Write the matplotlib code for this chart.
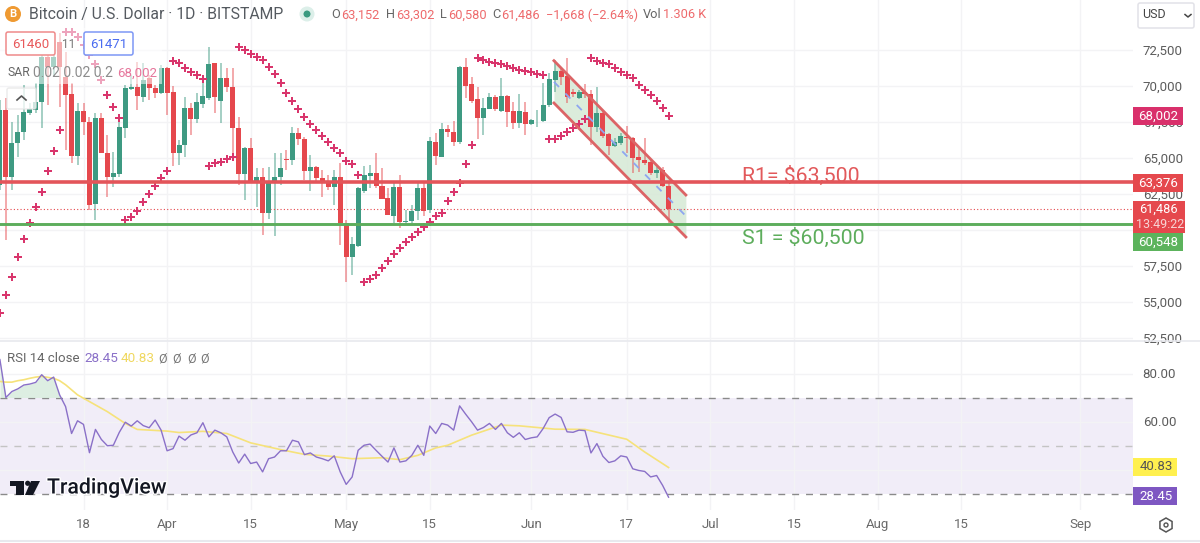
import matplotlib
matplotlib.use("Agg")
import matplotlib.pyplot as plt
import matplotlib.patheffects as pe
from matplotlib.patches import Rectangle, Circle, FancyBboxPatch, RegularPolygon, Polygon
import numpy as np

plt.rcParams["font.family"] = ["Roboto", "DejaVu Sans"]

# days counted from 18 Mar
first_day = -14
opens = [63120, 68330, 63700, 66020, 66830, 68150, 68330, 68910, 72040, 71340, 73080, 70650, 69420, 65140,
         68290, 67520, 61800, 67800, 65370, 63700, 63890, 67060, 69790, 69910, 69260, 70530, 69880, 69490,
         71270, 69610, 65320, 65900, 68450, 67710, 68750, 69140, 71570, 68980, 70530, 69950, 67060, 63890,
         65690, 63290, 63700, 61160, 63360, 63700, 64910, 64860, 66760, 66300, 64120, 64400, 63630, 63290,
         62960, 63700, 60510, 58100, 58890, 62730, 63750, 63930, 63060, 62200, 60990, 63010, 60580, 60630,
         61340, 62890, 61390, 66130, 65090, 66990, 66830, 66130, 71340, 70120, 69080, 67800, 68400, 69210,
         68290, 69300, 68290, 67410, 68220, 67360, 67620, 67590, 68680, 70420, 71070, 70690, 69610, 69190,
         69610, 69450, 67130, 68150, 66670, 65830, 66060, 66480, 66410, 65050, 64860, 64740, 63930, 64170,
         63060]
highs = [69030, 69140, 67520, 67990, 70070, 68800, 70190, 72730, 72960, 73190, 73660, 72380, 70190, 68800,
         68800, 67870, 68100, 68100, 66600, 65440, 67990, 70070, 70760, 71690, 71570, 70760, 70070, 71460,
         71340, 70000, 66250, 69210, 68800, 69490, 70420, 72730, 71620, 71570, 71230, 71230, 67870, 65790,
         66360, 64280, 64280, 64400, 65370, 65370, 65550, 67130, 67110, 66480, 65210, 64440, 64170, 63820,
         64170, 64630, 60690, 59540, 63010, 64440, 64510, 65370, 64280, 62890, 63240, 63820, 61390, 61740,
         63360, 63240, 66440, 66710, 67410, 67290, 67570, 71390, 71920, 70600, 69950, 69140, 69540, 69380,
         70530, 69380, 68910, 69450, 68910, 67690, 68330, 70190, 70930, 71800, 71230, 71920, 69770, 69720,
         70140, 69720, 69950, 68290, 66710, 66360, 66710, 67220, 66480, 65790, 66410, 64860, 64400, 64400,
         63360]
lows = [62780, 59300, 62780, 65090, 66250, 67990, 68100, 67060, 68680, 70650, 68570, 65550, 64680, 64510,
        66600, 61390, 60690, 65320, 62270, 63010, 63700, 66360, 69720, 68330, 68910, 69030, 69140, 69450,
        67990, 64470, 64510, 65090, 66600, 67410, 68450, 69030, 68150, 67410, 69610, 65090, 63130, 62080,
        63240, 61620, 59650, 60740, 59580, 63130, 64170, 64510, 65900, 63470, 62730, 63240, 62310, 62780,
        61740, 58960, 56410, 56870, 58800, 62590, 62890, 62890, 62130, 61040, 60510, 60120, 60420, 60460,
        60690, 60970, 61200, 64510, 65050, 66480, 65830, 65970, 69140, 68840, 66300, 66600, 68380, 68290,
        68220, 67130, 66990, 67060, 66600, 67290, 67180, 67520, 68570, 69610, 70070, 68800, 69210, 69080,
        69140, 65900, 66830, 66360, 65210, 65790, 65900, 65320, 63980, 64050, 64510, 63820, 63590, 63010,
        60460]
closes = [68330, 63700, 66020, 66830, 68220, 68380, 68910, 72040, 71340, 72040, 71340, 69380, 65140, 68290,
          67520, 61740, 67800, 65370, 63700, 63930, 67130, 69840, 69950, 69300, 70420, 69840, 69490, 71230,
          69490, 65320, 65900, 68450, 67710, 68870, 69300, 71530, 69210, 70530, 69910, 67060, 63890, 65690,
          63290, 63700, 61160, 63360, 63700, 64280, 64860, 66760, 66300, 64120, 64400, 63590, 63290, 63010,
          63700, 60460, 58100, 59030, 62890, 63820, 63930, 63060, 62150, 61040, 63010, 60580, 60630, 61340,
          62890, 61340, 66200, 65140, 66990, 66830, 66130, 71340, 70000, 68980, 67800, 68450, 69210, 68400,
          69300, 68220, 67450, 68290, 67360, 67640, 67640, 68680, 70460, 71070, 70650, 69210, 69450, 69580,
          69450, 67130, 68150, 66550, 65830, 66130, 66530, 66360, 65020, 64860, 64680, 63930, 64170, 63060,
          61486]

# parabolic SAR, one list per run of dots: first day, then the values
sar_runs = [
    (-14, [54240, 55490, 56740, 58130, 59380, 60490, 61600, 62640, 64100, 65490, 66940]),
    (-3, [73730, 73730, 73380, 72850, 72150, 71505, 70417, 69398, 68542, 67755]),
    (7, [60690, 60925, 61295, 61920, 62500, 63080, 63590, 64100]),
    (15, [71760, 71575, 71230, 70990, 70760, 70490]),
    (21, [64470, 64630, 64745, 64910, 65045]),
    (26, [72730, 72500, 72200, 71990, 71800, 71340, 70830, 70190, 69540, 68960, 68380, 67870, 67360, 66940,
          66550, 66130, 65720, 65320, 64810, 64580, 63820]),
    (47, [56410, 56570, 56870, 57360, 57870, 58310, 58730, 59170, 59540, 59880, 60210, 60550, 60990, 61200,
          61990, 62640, 63290, 64610, 65900]),
    (66, [71970, 71800, 71670, 71575, 71505, 71390, 71270, 71110, 71065, 70990, 70830, 70790]),
    (78, [66300, 66300, 66530, 66780, 67060, 67360, 67685]),
    (85, [71920, 71760, 71620, 71530, 71270, 70950, 70760, 70560, 70100, 69720, 69380, 68960, 68450, 67920]),
]

rsi = [85.8, 70, 72.5, 73.6, 75.2, 75.6, 76.3, 79.5, 77, 78.5, 71.1, 66.2, 55, 60.3, 58.8, 47, 56.7, 52.5,
       49.9, 50.1, 55.5, 59.7, 58.1, 60.3, 58.3, 57.4, 60.6, 56.4, 47.8, 48.7, 53.9, 52.2, 54.4, 55.3, 59.5,
       53.6, 56.4, 55.3, 53.6, 47.3, 42.7, 46.4, 42.5, 43.1, 39, 44.5, 45.2, 47.8, 47.8, 52.2, 51.5, 46.2,
       46.9, 45.2, 44.5, 43.6, 45.7, 39, 33.8, 36.9, 48, 50.1, 50.6, 48, 45.5, 43.1, 49, 43.1, 43.6, 45.9,
       50.1, 45.9, 58.1, 55, 59.2, 58.5, 56.4, 66.5, 63.1, 59.9, 56.4, 57.5, 59.2, 56.7, 59.2, 55.3, 53.4,
       55.3, 52.5, 53.2, 53.6, 57.1, 61.6, 63.1, 61.7, 55.7, 55.5, 56.4, 56.2, 46.9, 50.8, 45.5, 42.9, 43.6,
       45.7, 45.2, 40.3, 39.6, 39.2, 36.9, 37.5, 33.4, 28.45]
rsi_ma_days = [-14, -13, -12, -11, -10, -9, -8, -7, -6, -5, -4, -3, -2, -1, 0, 4, 7, 9, 14, 16, 20, 24, 28, 33,
               37, 41, 45, 50, 53, 56, 59, 61, 65, 70, 73, 79, 84, 91, 94, 98]
rsi_ma = [76.7, 76.4, 76.4, 77, 77.4, 78, 78.5, 78.8, 78.4, 78, 77, 75.3, 73.2, 71.1, 69.7, 64.1, 59.2, 56.7,
          56, 55.4, 55.9, 55, 51.1, 48.3, 46.3, 45.6, 44.5, 44.9, 44.1, 45.9, 49, 50.1, 54.3, 58.5, 58.2,
          56.8, 56.7, 52.6, 47.3, 40.83]

price_ticks = [52500, 55000, 57500, 60000, 62500, 65000, 67500, 70000, 72500]
rsi_ticks = [40, 60, 80]
rsi_tick_labels = ["", "60.00", "80.00"]
time_days = [0, 14, 28, 44, 58, 75, 91, 105, 119, 133, 147, 167]
time_labels = ["18", "Apr", "15", "May", "15", "Jun", "17", "Jul", "15", "Aug", "15", "Sep"]

resistance = 63300
support = 60450
last_price = 61486
channel_days = [78.8, 100.9]
channel_top = [71757, 62430]
channel_mid = [70290, 60970]
channel_bottom = [68820, 59514]

RED = "#e5484d"
GREEN = "#3e9a82"
WIDTH, HEIGHT = 1200, 543
PANE_RIGHT = 1133


def pane(top, bottom):
    a = fig.add_axes([0, 1 - bottom / HEIGHT, PANE_RIGHT / WIDTH, (bottom - top) / HEIGHT])
    a.set_xlim((0 - 83.5) / 5.97, (PANE_RIGHT - 83.5) / 5.97)
    for s in a.spines.values():
        s.set_visible(False)
    a.yaxis.tick_right()
    a.grid(True, color="#f3f3f5", lw=1)
    a.set_axisbelow(True)
    a.tick_params(length=0, labelsize=9.5, labelcolor="#5c5c5c")
    a.set_xticks(time_days)
    return a


fig = plt.figure(figsize=(WIDTH / 100, HEIGHT / 100), dpi=100)

# price pane
ax = pane(0, 341)
ax.set_ylim(72500 - 291 / 0.0144, 72500 + 50 / 0.0144)
ax.set_yticks(price_ticks, [f"{p:,}" for p in price_ticks])
ax.tick_params(axis="y", pad=7)
ax.tick_params(axis="x", labelbottom=False)

ax.fill_between(channel_days, channel_bottom, channel_top, color="#d8ead8", alpha=0.9, lw=0, zorder=1)

days = np.arange(first_day, first_day + len(opens))
o, h, l, c = np.array(opens), np.array(highs), np.array(lows), np.array(closes)
colors = np.where(c >= o, GREEN, RED)
ax.vlines(days, l, h, colors=colors, lw=1.2, alpha=0.55, zorder=2)
ax.bar(days, np.maximum(np.abs(c - o), 30), bottom=np.minimum(o, c), width=0.84, color=colors, zorder=3)

for start, vals in sar_runs:
    ax.scatter(np.arange(start, start + len(vals)), vals, marker="P", s=32, color="#d9356c", lw=0, zorder=4)

ax.plot(channel_days, channel_top, color="#dc6466", lw=2, zorder=5)
ax.plot(channel_days, channel_bottom, color="#dc6466", lw=2, zorder=5)
ax.plot(channel_days, channel_mid, color="#8ea6f0", lw=1.3, ls=(0, (4, 5)), zorder=5)

ax.axhline(resistance, color="#e3555a", lw=2.6, zorder=6)
ax.axhline(support, color="#5dad5c", lw=2.1, zorder=6)
ax.axhline(last_price, color=RED, lw=0.8, ls=(0, (1, 2)), zorder=2)

# rsi pane
ax2 = pane(342, 510)
ax2.set_ylim(70 - (510 - 397.5) / 2.4, 70 + (397.5 - 342) / 2.4)
ax2.set_yticks(rsi_ticks, rsi_tick_labels)
ax2.set_xticklabels(time_labels)
ax2.tick_params(axis="y", pad=7)
ax2.tick_params(axis="x", pad=5.5, labelsize=9.5, labelcolor="#6a6a6a")
ax2.axhspan(30, 70, color="#f1edf8", lw=0, zorder=0.5)
for lev, col in zip([70, 50, 30], ["#8a8a8a", "#c4c4c4", "#8a8a8a"]):
    ax2.axhline(lev, color=col, lw=1, ls=(0, (5, 5)), zorder=1)
rsi_arr = np.array(rsi)
ax2.fill_between(days[:12], rsi_arr[:12], 70, where=rsi_arr[:12] >= 70, color="#cfe8d6", alpha=0.7, lw=0, zorder=1)
ax2.plot(rsi_ma_days, rsi_ma, color="#f6e27a", lw=1.2, zorder=3)
ax2.plot(days, rsi, color="#8a70c8", lw=1.0, zorder=4)

# everything that is tradingview furniture goes on a pixel overlay
top = fig.add_axes([0, 0, 1, 1], zorder=10)
top.set_xlim(0, WIDTH)
top.set_ylim(HEIGHT, 0)
top.axis("off")
top.patch.set_alpha(0)


def label(x, y, s, color="#555555", size=9.5, ha="left", **kw):
    return top.text(x, y, s, color=color, fontsize=size, ha=ha, va="center", **kw)


def price_box(x0, x1, y0, y1, color):
    top.add_patch(Rectangle((x0, y0), x1 - x0, y1 - y0, color=color, lw=0))


def round_box(x0, x1, y0, y1, edge, face="white", alpha=1.0):
    top.add_patch(FancyBboxPatch((x0 + 2, y0 + 2), x1 - x0 - 4, y1 - y0 - 4, boxstyle="round,pad=2",
                                 ec=edge, fc=face, lw=1.1, alpha=alpha))


top.add_patch(Rectangle((0, 28), 162, 56, color="white", alpha=0.55, lw=0))

# header
top.add_patch(Circle((13, 14), 8, color="#ef9a32", lw=0))
label(13, 14, "B", color="white", size=8, ha="center", fontweight="bold")
label(29, 15, "Bitcoin / U.S. Dollar · 1D · BITSTAMP", size=11.3, color="#555a60")
top.add_patch(Circle((307, 14), 7.5, color="#dcefe9", lw=0))
top.add_patch(Circle((307, 14), 3.5, color="#3a9a80", lw=0))
HEAD_RED = "#ee6a6c"
for x, s, col in [(331, "O", "#666666"), (341, "63,152", HEAD_RED), (386, "H", "#666666"), (396, "63,302", HEAD_RED),
                  (440, "L", "#666666"), (448, "60,580", HEAD_RED), (492, "C", "#666666"), (501, "61,486", HEAD_RED),
                  (546, "−1,668 (−2.64%)", HEAD_RED), (643, "Vol", "#666666"), (663, "1.306 K", HEAD_RED)]:
    label(x, 15, s, color=col, size=9.2)

# buy / sell boxes and sar legend
round_box(6, 55, 32, 55, "#ef8a8a")
label(30.5, 44, "61460", color="#e8595b", ha="center", size=9.5)
label(69, 44, "11", color="#777777", ha="center", size=8.5)
round_box(84, 133, 32, 55, "#7d97f5")
label(108.5, 44, "61471", color="#4a6cf0", ha="center", size=9.5)
label(7, 73, "SAR", color="#666666", size=8.8)
label(33, 73, "0.02 0.02 0.2", color="#8c8c8c", size=10)
label(117, 73, "68,002", color="#e6769c", size=9.5)
round_box(7, 36, 88, 109, "#e6e6e6", alpha=0.75)
top.plot([17, 21.5, 26], [100, 96, 100], color="#555555", lw=1.2)

# annotations
label(742, 176, "R1= $63,500", color="#e2595b", size=15.3)
label(742, 238, "S1 = $60,500", color="#5dad5c", size=15.3)

# price scale labels
price_box(PANE_RIGHT, 1183, 107, 125, "#d9306b")
label(1158, 116, "68,002", color="white", ha="center")
price_box(PANE_RIGHT, 1183, 174, 192, RED)
label(1158, 183, "63,376", color="white", ha="center")
price_box(PANE_RIGHT, 1185, 201, 233, RED)
label(1158, 209, "61,486", color="white", ha="center", size=9.2)
label(1160, 225, "13:49:22", color="#f7d5d5", ha="center", size=9)
price_box(PANE_RIGHT, 1183, 233, 251, "#5cb35c")
label(1158, 242, "60,548", color="white", ha="center")

round_box(1138, 1194, 3, 28, "#e2e2e8")
label(1142, 15, "USD", color="#444444", size=9)
top.plot([1185, 1188, 1191], [14.5, 17, 14.5], color="#444444", lw=1.1)

# rsi legend and scale labels
label(7, 359, "RSI 14 close", color="#666666", size=9.5)
label(84, 359, "28.45", color="#8a70c8", size=9.7)
label(121, 359, "40.83", color="#f0d860", size=9.7)
for x in [163, 177, 192, 205]:
    label(x, 359, "Ø", color="#777777", size=9, ha="center")
price_box(PANE_RIGHT, 1177, 458, 476, "#fff04f")
label(1156, 467, "40.83", color="#555555", ha="center")
price_box(PANE_RIGHT, 1177, 487, 505, "#7e57c2")
label(1156, 496, "28.45", color="white", ha="center")

# logo
LOGO = "#131722"
top.add_patch(Polygon([(10, 481), (24, 481), (24, 495), (16, 495), (16, 486), (10, 486)], color=LOGO, lw=0))
top.add_patch(Circle((27.7, 483.3), 2.6, color=LOGO, lw=0))
top.add_patch(Polygon([(31, 481), (40, 481), (33, 495), (25, 495)], color=LOGO, lw=0))
label(47, 488, "TradingView", color=LOGO, size=15.3, fontweight="medium",
      path_effects=[pe.withStroke(linewidth=2, foreground="white")])

# gear and frame lines
top.add_patch(RegularPolygon((1166, 525), 6, radius=7, fc="none", ec="#555555", lw=1.1))
top.add_patch(Circle((1166, 525), 2, fc="none", ec="#555555", lw=1))
top.plot([0, WIDTH], [341, 341], color="#e8e9ee", lw=1.2)
top.plot([0, WIDTH], [540.5, 540.5], color="#e8e9ee", lw=1.5)

fig.savefig("out.png", dpi=100)
